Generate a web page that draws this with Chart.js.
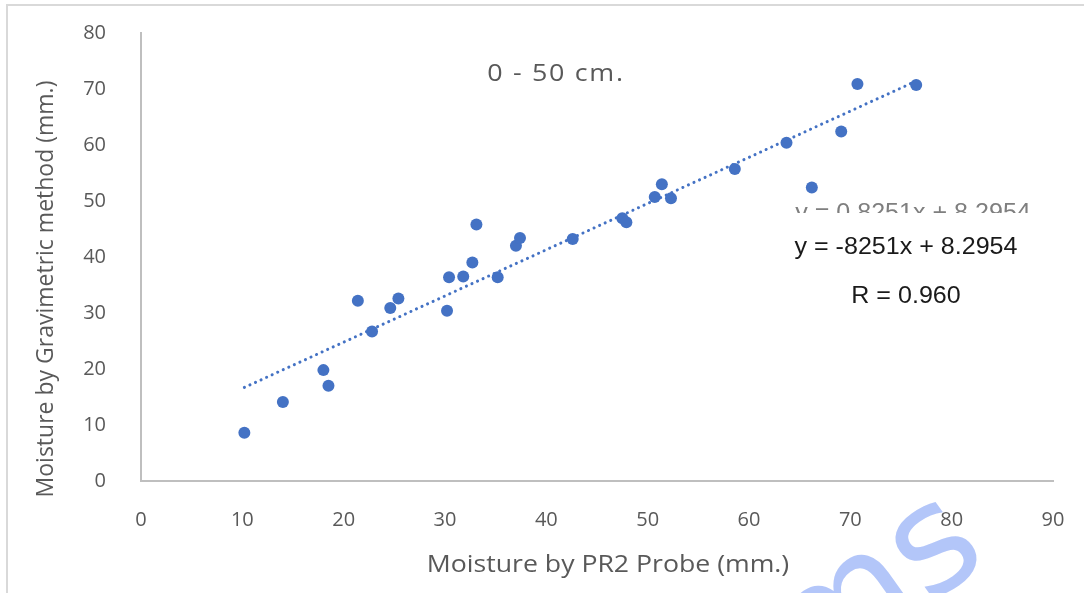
<!DOCTYPE html>
<html>
<head>
<meta charset="utf-8">
<script src="https://cdn.jsdelivr.net/npm/chart.js@4.4.1/dist/chart.umd.min.js"></script>
<style>
  html, body { margin: 0; padding: 0; background: #fff; }
  #wrap { width: 1084px; height: 593px; position: relative; }
</style>
</head>
<body>
<div id="wrap"><canvas id="moistureChart" width="1084" height="593"></canvas></div>
<script>
// PR2 probe readings vs gravimetric readings, 0-50 cm layer (mm.)
const probeX = [10.2, 14.0, 18.0, 18.5, 21.4, 22.8, 24.6, 25.4, 30.2, 30.4, 31.8, 32.7, 33.1, 35.2,
                37.0, 37.4, 42.6, 47.5, 47.9, 50.7, 51.4, 52.3, 58.6, 63.7, 66.2, 69.1, 70.7, 76.5];
const gravY  = [8.6, 14.1, 19.8, 17.0, 32.2, 26.7, 30.9, 32.6, 30.4, 36.4, 36.5, 39.0, 45.8, 36.4,
                42.0, 43.4, 43.2, 46.9, 46.2, 50.7, 53.0, 50.5, 55.7, 60.4, 52.4, 62.4, 70.9, 70.7];

const xTicks = [0, 10, 20, 30, 40, 50, 60, 70, 80, 90];
const yTicks = [0, 10, 20, 30, 40, 50, 60, 70, 80];

// linear trend printed on the chart
const slope = 0.8251;
const intercept = 8.2954;
const rValue = '0.960';

const layerLabel = '0 - 50 cm.';
const xTitle = 'Moisture by PR2 Probe (mm.)';
const yTitle = 'Moisture by Gravimetric method (mm.)';

const blue = '#4472C4';
const grey = '#595959';
const uiFont = '"Open Sans", "Noto Sans", sans-serif';
const eqFont = '"Liberation Sans Narrow", "Liberation Sans", sans-serif';

const points = probeX.map((x, i) => ({ x: x, y: gravY[i] }));
const xMin = Math.min(...probeX);
const xMax = Math.max(...probeX);
const trend = [xMin, xMax].map(x => ({ x: x, y: slope * x + intercept }));

// text drawn a little wider than the font's natural width
function wideText(ctx, text, x, y, stretch) {
    ctx.save();
    ctx.translate(x, y);
    ctx.scale(stretch, 1);
    ctx.fillText(text, 0, 0);
    ctx.restore();
}

// frame, titles, equation text and the faint watermark
const decorations = {
    id: 'decorations',
    beforeDraw(chart) {
        const ctx = chart.ctx;
        ctx.save();
        ctx.fillStyle = '#fff';
        ctx.fillRect(0, 0, chart.width, chart.height);
        ctx.strokeStyle = '#d9d9d9';
        ctx.lineWidth = 2;
        ctx.strokeRect(7, 5, chart.width + 20, chart.height + 20);
        ctx.restore();
    },
    afterDraw(chart) {
        const ctx = chart.ctx;
        const area = chart.chartArea;
        ctx.save();

        ctx.fillStyle = grey;
        ctx.textAlign = 'center';
        ctx.textBaseline = 'middle';
        ctx.font = '24px ' + uiFont;
        ctx.save();
        ctx.letterSpacing = '1.5px';
        wideText(ctx, layerLabel, 556, 74, 1.12);
        ctx.restore();
        wideText(ctx, xTitle, 608, 565, 1.11);

        ctx.save();
        ctx.font = '23px ' + uiFont;
        ctx.translate(46, 289);
        ctx.rotate(-Math.PI / 2);
        ctx.fillText(yTitle, 0, 0);
        ctx.restore();

        // the auto label, partly hidden behind the edited one
        ctx.save();
        ctx.beginPath();
        ctx.rect(area.left, 190, area.width, 23);
        ctx.clip();
        ctx.fillStyle = '#7f7f7f';
        ctx.font = '23px ' + eqFont;
        wideText(ctx, 'y = ' + slope + 'x + ' + intercept, 913, 214, 1.09);
        ctx.restore();

        ctx.fillStyle = '#1a1a1a';
        ctx.font = '23px ' + eqFont;
        wideText(ctx, 'y = -8251x + ' + intercept, 906, 248, 1.09);
        wideText(ctx, 'R = ' + rValue, 906, 297, 1.09);

        // watermark
        ctx.save();
        ctx.beginPath();
        ctx.rect(0, 0, chart.width, chart.height);
        ctx.clip();
        ctx.translate(900, 625);
        ctx.rotate(-0.62);
        ctx.fillStyle = 'rgba(160, 184, 247, 0.8)';
        ctx.font = '150px "DejaVu Sans", sans-serif';
        ctx.textAlign = 'center';
        ctx.textBaseline = 'alphabetic';
        ctx.fillText('ms', 0, 0);
        ctx.restore();

        ctx.restore();
    }
};

new Chart(document.getElementById('moistureChart'), {
    type: 'scatter',
    data: {
        datasets: [{
            label: 'trend',
            type: 'line',
            data: trend,
            borderColor: blue,
            borderWidth: 3,
            borderDash: [0.1, 6],
            borderCapStyle: 'round',
            pointRadius: 0,
            fill: false,
            order: 2
        }, {
            label: 'samples',
            data: points,
            backgroundColor: blue,
            borderColor: blue,
            borderWidth: 0,
            pointRadius: 6,
            order: 1
        }]
    },
    options: {
        responsive: false,
        animation: false,
        layout: { padding: { top: 33, right: 31, left: 0, bottom: 0 } },
        plugins: {
            legend: { display: false },
            tooltip: { enabled: false }
        },
        scales: {
            x: {
                type: 'linear',
                min: 0,
                max: 90,
                afterFit: s => { s.height = 112; s.paddingLeft = 0; s.paddingRight = 0; },
                afterBuildTicks: s => { s.ticks = xTicks.map(v => ({ value: v })); },
                grid: { color: 'transparent', drawTicks: false },
                border: { color: '#bfbfbf', width: 2 },
                ticks: { color: grey, padding: 27, font: { family: uiFont, size: 20 } }
            },
            y: {
                type: 'linear',
                min: 0,
                max: 80,
                afterFit: s => { s.width = 141; s.paddingTop = 0; s.paddingBottom = 0; },
                afterBuildTicks: s => { s.ticks = yTicks.map(v => ({ value: v })); },
                grid: { color: 'transparent', drawTicks: false },
                border: { color: '#bfbfbf', width: 2 },
                ticks: { color: grey, padding: 35, font: { family: uiFont, size: 20 } }
            }
        }
    },
    plugins: [decorations]
});
</script>
</body>
</html>
